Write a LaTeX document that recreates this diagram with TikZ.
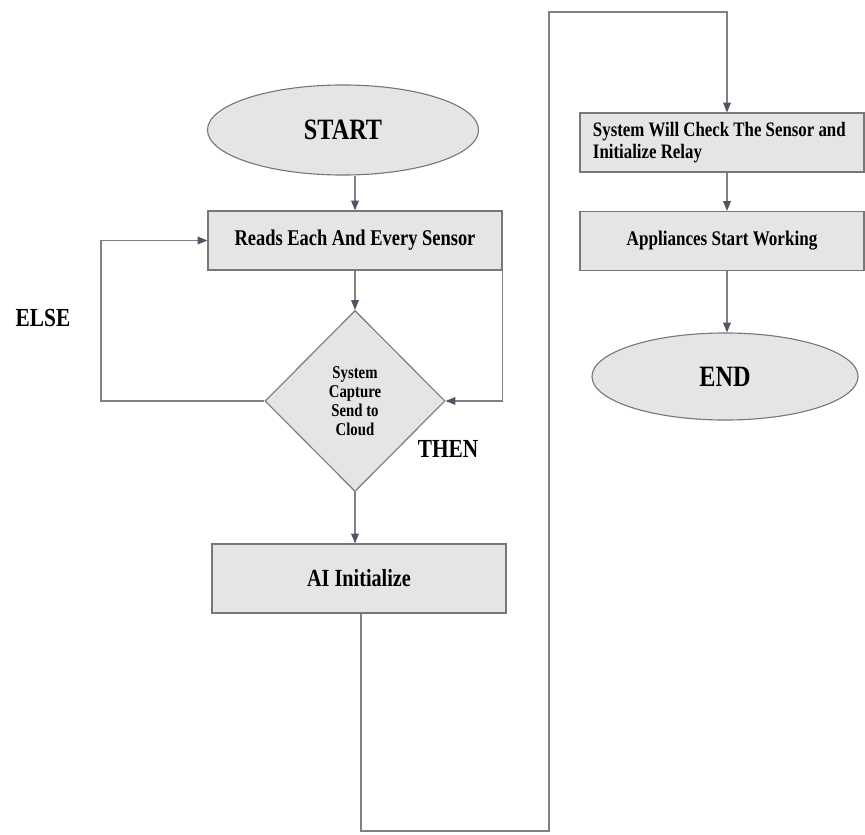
\documentclass[tikz,border=0pt]{standalone}
\usepackage{fontspec}
\setmainfont{Liberation Serif}[FakeStretch=0.82]
\usetikzlibrary{shapes.geometric,arrows.meta}
\definecolor{boxfill}{RGB}{230,229,230}
\definecolor{boxline}{RGB}{120,120,120}
\definecolor{linegray}{RGB}{128,128,128}
\definecolor{tipgray}{RGB}{78,88,100}

\begin{document}
\begin{tikzpicture}[x=0.025cm, y=-0.025cm]

\tikzstyle{term}=[ellipse, draw=boxline, fill=boxfill, line width=0.8pt, inner sep=0pt, font=\bfseries\fontsize{21}{24}\selectfont]
\tikzstyle{box1}=[rectangle, draw=boxline, fill=boxfill, line width=0.8pt, minimum width=7.35cm, minimum height=1.475cm, inner sep=0pt, font=\bfseries\fontsize{16}{18}\selectfont]
\tikzstyle{box2}=[box1, minimum width=7.1cm, align=left, text width=6.45cm, inner xsep=0.325cm, font=\bfseries\fontsize{14.6}{15.5}\selectfont]
\tikzstyle{decision}=[diamond, draw=boxline, fill=boxfill, line width=0.8pt, inner sep=0pt, minimum width=4.5cm, minimum height=4.525cm, align=center, font=\bfseries\fontsize{12.8}{13.5}\selectfont]
\tikzstyle{note}=[font=\bfseries\fontsize{18.5}{20}\selectfont]
\tikzstyle{arrow}=[linegray, line width=0.8pt, -{Triangle[length=7pt, width=5.5pt, color=tipgray]}]

\useasboundingbox (0,0) rectangle (865,834);

% left column
\node (S) [term, minimum width=6.775cm, minimum height=2.25cm] at (343,130) {START};
\node (R) [box1] at (355,240.5) {Reads Each And Every Sensor};
\node (D) [decision] at (355,401) {System\\ Capture\\ Send to\\ Cloud};
\node (AI) [box1, minimum height=1.725cm, font=\bfseries\fontsize{17.5}{19}\selectfont] at (359,578.5) {AI Initialize};

% right column
\node (C) [box2] at (722,142.5) {\spaceskip=0pt\xspaceskip=0pt\relax
  \mbox{System Will Check The Sensor and}\\ Initialize Relay};
\node (W) [box1, minimum width=7.1cm, font=\bfseries\fontsize{14.8}{16}\selectfont] at (722,241) {Appliances Start Working};
\node (E) [term, minimum width=6.65cm, minimum height=2.175cm] at (725,376.5) {END};

\node (else) [note] at (43,318) {ELSE};
\node (then) [note] at (448,449) {THEN};

\coordinate (el) at (101,401);
\coordinate (b1) at (361,831);
\coordinate (b2) at (549,831);
\coordinate (t1) at (549,12);
\coordinate (t2) at (727,12);

\draw [arrow] (R.north |- S.south) -- (R.north);
\draw [arrow] (R.south) -- (D.north);
\draw [arrow] (D.west) -- (el) |- (R.west);
\draw [arrow] (R.south east) -- (R.south east |- D.east) -- (D.east);
\draw [arrow] (D.south) -- (D.south |- AI.north);
\draw [arrow] (AI.south -| b1) -- (b1) -- (b2) -- (t1) -- (t2) -- (t2 |- C.north);
\draw [arrow] (t2 |- C.south) -- (t2 |- W.north);
\draw [arrow] (t2 |- W.south) -- (t2 |- E.north);

\end{tikzpicture}
\end{document}
